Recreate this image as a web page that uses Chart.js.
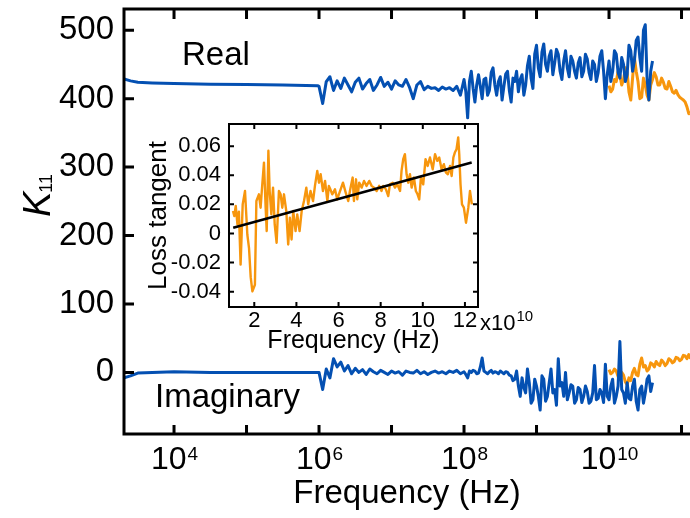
<!DOCTYPE html>
<html>
<head>
<meta charset="utf-8">
<script src="https://cdn.jsdelivr.net/npm/chart.js@4.4.0/dist/chart.umd.min.js"></script>
<style>
  html, body { margin: 0; padding: 0; background: #fff; }
  #wrap { position: relative; width: 690px; height: 518px; overflow: hidden; }
  #main { position: absolute; left: 0; top: 0; }
  #inset { position: absolute; left: 130px; top: 110px; }
</style>
</head>
<body>
<div id="wrap">
  <canvas id="main" width="690" height="518"></canvas>
  <canvas id="inset" width="420" height="250"></canvas>
</div>
<script>
// ---- main plot data (log10 of frequency in Hz, K11) ----
const blueLogF = [3.31, 3.4, 3.5, 3.7, 4.0, 4.5, 5.0, 5.5, 5.98,
  6.00, 6.05, 6.10, 6.15, 6.20, 6.25, 6.30, 6.35, 6.40, 6.45,
  6.50, 6.55, 6.60, 6.65, 6.70, 6.75, 6.80, 6.85, 6.90, 6.95,
  7.00, 7.05, 7.10, 7.15, 7.20, 7.25, 7.30, 7.35, 7.40, 7.45,
  7.50, 7.55, 7.60, 7.65, 7.70, 7.75, 7.80, 7.85, 7.90, 7.95,
  8.000, 8.025, 8.050, 8.075, 8.100, 8.125, 8.150, 8.175, 8.200, 8.225, 8.250, 8.275,
  8.300, 8.325, 8.350, 8.375, 8.400, 8.425, 8.450, 8.475, 8.500, 8.525, 8.550, 8.575,
  8.600, 8.625, 8.650, 8.675, 8.700, 8.725, 8.750, 8.775, 8.800, 8.825, 8.850, 8.875,
  8.900, 8.925, 8.950, 8.975, 9.000, 9.025, 9.050, 9.075, 9.100, 9.125, 9.150, 9.175,
  9.200, 9.225, 9.250, 9.275, 9.300, 9.325, 9.350, 9.375, 9.400, 9.425, 9.450, 9.475,
  9.500, 9.525, 9.550, 9.575, 9.600, 9.625, 9.650, 9.675, 9.700, 9.725, 9.750, 9.775,
  9.800, 9.825, 9.850, 9.875, 9.900, 9.925, 9.950, 9.975, 10.000, 10.025, 10.050, 10.075,
  10.100, 10.125, 10.150, 10.175, 10.200, 10.225, 10.250, 10.275, 10.300, 10.325, 10.350, 10.375,
  10.400, 10.425, 10.450, 10.475, 10.500, 10.525, 10.550, 10.575, 10.600];
const blueReal = [429, 426, 424, 423, 422, 421, 420.5, 420, 419,
  418, 393, 425, 432, 412, 426, 415, 430, 420, 410,
  424, 430, 414, 422, 428, 412, 420, 431, 418, 424,
  414, 426, 420, 418, 428, 416, 400, 420, 425, 413,
  418, 415, 416, 412, 417, 414, 416, 412, 418, 405,
  428, 410, 372, 425, 440, 415, 395, 420, 435, 418, 400, 428,
  430, 405, 412, 438, 445, 420, 405, 425, 432, 398, 418, 436,
  440, 412, 395, 430, 425, 440, 410, 428, 435, 405, 420, 448,
  462, 430, 415, 465, 478, 445, 432, 468, 480, 450, 440, 462,
  470, 435, 452, 472, 465, 440, 428, 455, 470, 445, 432, 462,
  455, 440, 430, 452, 460, 432, 440, 465, 458, 438, 428, 455,
  450, 425, 438, 462, 470, 440, 400, 435, 455, 425, 440, 470,
  465, 438, 430, 460, 450, 425, 435, 478, 470, 440, 455, 485,
  490, 460, 440, 500, 508, 430, 398, 440, 455];
const blueImag = [-8, -5, -1, 0, 1, 0, 0, 0, 0,
  0, -25, 5, -8, 20, 8, 15, 2, 10, -2,
  6, 0, 4, -3, 5, 1, -2, 3, 0, -3,
  2, -1, 1, -4, 2, 0, -1, 3, -2, 1,
  -3, 0, 2, -1, 1, -2, 2, 0, 3, -2,
  1, -3, -8, 2, 0, 3, 2, -2, -1, 8, 21, 2,
  0, -2, 1, 3, -1, 1, 0, -2, 2, 0, -2, 1,
  0, -4, -5, -12, -10, 2, -20, -35, -8, -22, -30, 5,
  -15, -45, -40, -10, -20, -35, -55, -5, -10, -42, -35, -15,
  5, -30, -25, -48, 20, -20, -15, -35, 0, -40, -30, -18,
  -20, -45, -40, -22, -25, -44, -35, -20, -28, -45, -42, -30,
  10, -40, -38, -25, -30, -44, 12, -35, -40, -20, -10, -45,
  -35, -20, 45, -25, -30, -45, -15, -38, -40, -20, -10, -42,
  -55, -25, -20, -45, -30, -10, -5, -28, -15];
const orangeLogF = [10.000, 10.025, 10.050, 10.075, 10.100, 10.125, 10.150, 10.175,
  10.200, 10.225, 10.250, 10.275, 10.300, 10.325, 10.350, 10.375,
  10.400, 10.425, 10.450, 10.475, 10.500, 10.525, 10.550, 10.575,
  10.600, 10.625, 10.650, 10.675, 10.700, 10.725, 10.750, 10.775,
  10.800, 10.825, 10.850, 10.875, 10.900, 10.925, 10.950, 10.975,
  11.000, 11.025, 11.050, 11.075, 11.100, 11.125, 11.150];
const orangeReal = [419, 410, 414, 428, 425, 440, 434, 420,
  428, 445, 438, 410, 398, 430, 460, 440,
  425, 400, 402, 430, 420, 405, 398, 420,
  428, 438, 432, 420, 420, 430, 424, 415,
  414, 425, 418, 410, 408, 412, 406, 402,
  400, 398, 395, 388, 378, 380, 372];
const orangeImag = [4, -2, 0, 5, 2, -6, -10, 0,
  -4, -14, -18, -8, -12, 0, 6, -3,
  -5, 12, 21, 8, 10, 2, 5, 14,
  12, 8, 16, 12, 10, 18, 15, 10,
  13, 20, 18, 14, 16, 22, 21, 17,
  19, 25, 24, 20, 26, 20, 8];
const mainYTicks = [0, 100, 200, 300, 400, 500];
const mainXDecades = [4, 5, 6, 7, 8, 9, 10, 11];
const mainXLabelled = [4, 6, 8, 10];

// ---- inset data (frequency in units of 1e10 Hz, loss tangent) ----
const lossFreq = [0.99, 1.05, 1.12, 1.20, 1.27, 1.35, 1.45, 1.56, 1.67, 1.75,
  1.83, 1.91, 2.03, 2.10, 2.22, 2.30, 2.38, 2.46, 2.54, 2.59,
  2.67, 2.73, 2.81, 2.89, 2.97, 3.06, 3.17, 3.25, 3.33, 3.41,
  3.52, 3.61, 3.69, 3.77, 3.85, 3.96, 4.04, 4.15, 4.25, 4.36,
  4.47, 4.56, 4.67, 4.79, 4.88, 4.99, 5.07, 5.15, 5.26, 5.36,
  5.47, 5.54, 5.62, 5.70, 5.83, 5.94, 6.02, 6.10, 6.21, 6.34,
  6.46, 6.54, 6.67, 6.73, 6.83, 6.89, 6.98, 7.10, 7.21, 7.33,
  7.46, 7.57, 7.68, 7.81, 7.93, 8.04, 8.12, 8.25, 8.36, 8.44,
  8.57, 8.68, 8.79, 8.92, 8.99, 9.07, 9.15, 9.23, 9.31, 9.39,
  9.47, 9.58, 9.67, 9.75, 9.83, 9.91, 10.02, 10.13, 10.23, 10.34,
  10.47, 10.58, 10.69, 10.78, 10.89, 11.00, 11.10, 11.19, 11.29, 11.37,
  11.45, 11.52, 11.60, 11.68, 11.73, 11.79, 11.86, 11.95, 12.05, 12.16,
  12.24, 12.33];
const lossTan = [0.0154, 0.0120, 0.0189, 0.0062, 0.0150, -0.0214, 0.0200, 0.0292, -0.0007, -0.0100,
  -0.0300, -0.0398, -0.0352, 0.0223, 0.0269, 0.0177, 0.0338, 0.0487, 0.0177, 0.0016,
  0.0568, 0.0292, 0.0131, 0.0315, 0.0062, -0.0064, 0.0292, 0.0269, 0.0177, 0.0269,
  0.0154, -0.0076, 0.0108, -0.0041, 0.0154, 0.0016, 0.0131, 0.0016, 0.0154, 0.0223,
  0.0315, 0.0200, 0.0292, 0.0223, 0.0327, 0.0430, 0.0349, 0.0407, 0.0292, 0.0361,
  0.0223, 0.0327, 0.0300, 0.0269, 0.0303, 0.0234, 0.0270, 0.0303, 0.0349, 0.0281,
  0.0223, 0.0292, 0.0384, 0.0223, 0.0372, 0.0234, 0.0349, 0.0315, 0.0361, 0.0327,
  0.0361, 0.0327, 0.0315, 0.0292, 0.0327, 0.0292, 0.0327, 0.0303, 0.0257, 0.0338,
  0.0349, 0.0315, 0.0338, 0.0292, 0.0430, 0.0510, 0.0545, 0.0407, 0.0349, 0.0407,
  0.0315, 0.0384, 0.0292, 0.0269, 0.0234, 0.0384, 0.0338, 0.0510, 0.0464, 0.0522,
  0.0441, 0.0545, 0.0499, 0.0522, 0.0441, 0.0476, 0.0418, 0.0407, 0.0464, 0.0395,
  0.0522, 0.0556, 0.0579, 0.0660, 0.0545, 0.0338, 0.0200, 0.0177, 0.0074, 0.0177,
  0.0292, 0.0200];
const fitFreq = [1.0, 12.32];
const fitTan = [0.0039, 0.0487];
const insetXTicks = [2, 4, 6, 8, 10, 12];
const insetYTicks = [-0.04, -0.02, 0, 0.02, 0.04, 0.06];

const FONT = '"Liberation Sans", Arial, sans-serif';
const BLUE = '#0450b2';
const ORANGE = '#f7960d';

function logPairs(lf, vals) {
  return lf.map((e, i) => ({ x: Math.pow(10, e), y: vals[i] }));
}
function pairs(xs, ys) {
  return xs.map((v, i) => ({ x: v, y: ys[i] }));
}

// frame, inward ticks, superscript labels and annotations for the main plot
const mainDecor = {
  id: 'mainDecor',
  afterDraw(chart) {
    const { ctx, chartArea: a, scales: { x, y } } = chart;
    ctx.save();
    ctx.strokeStyle = '#000';
    ctx.lineWidth = 3;
    ctx.beginPath();
    ctx.moveTo(a.right + 2, a.top);
    ctx.lineTo(a.left, a.top);
    ctx.lineTo(a.left, a.bottom);
    ctx.lineTo(a.right + 2, a.bottom);
    ctx.stroke();

    ctx.beginPath();
    mainXDecades.forEach(e => {
      const px = x.getPixelForValue(Math.pow(10, e));
      ctx.moveTo(px, a.bottom); ctx.lineTo(px, a.bottom - 9);
      ctx.moveTo(px, a.top); ctx.lineTo(px, a.top + 10);
    });
    mainYTicks.forEach(v => {
      const py = y.getPixelForValue(v);
      ctx.moveTo(a.left, py); ctx.lineTo(a.left + 10, py);
    });
    ctx.stroke();

    ctx.fillStyle = '#000';
    ctx.textBaseline = 'alphabetic';
    ctx.textAlign = 'left';
    mainXLabelled.forEach(e => {
      const px = x.getPixelForValue(Math.pow(10, e));
      ctx.font = '32px ' + FONT;
      const wb = ctx.measureText('10').width;
      ctx.font = '19px ' + FONT;
      const we = ctx.measureText(String(e)).width;
      const x0 = px - (wb + we) / 2;
      ctx.font = '32px ' + FONT;
      ctx.fillText('10', x0, 469);
      ctx.font = '19px ' + FONT;
      ctx.fillText(String(e), x0 + wb + 1, 460);
    });

    ctx.font = '33px ' + FONT;
    ctx.fillText('Real', 182, 65);
    ctx.fillText('Imaginary', 155, 407);

    // y axis title: italic K with subscript 11
    ctx.translate(50, 217);
    ctx.rotate(-Math.PI / 2);
    ctx.font = 'italic 38px ' + FONT;
    ctx.fillText('K', 0, 0);
    const kw = ctx.measureText('K').width;
    ctx.font = '18px ' + FONT;
    ctx.fillText('11', kw - 1, 2);
    ctx.restore();
  }
};

// frame, inward ticks and the x10^10 note for the inset
const insetDecor = {
  id: 'insetDecor',
  afterDraw(chart) {
    const { ctx, chartArea: a, scales: { x, y } } = chart;
    ctx.save();
    ctx.strokeStyle = '#000';
    ctx.lineWidth = 2;
    ctx.strokeRect(a.left, a.top, a.right - a.left, a.bottom - a.top);
    ctx.beginPath();
    insetXTicks.forEach(v => {
      const px = x.getPixelForValue(v);
      ctx.moveTo(px, a.bottom); ctx.lineTo(px, a.bottom - 5);
      ctx.moveTo(px, a.top); ctx.lineTo(px, a.top + 5);
    });
    insetYTicks.forEach(v => {
      const py = y.getPixelForValue(v);
      ctx.moveTo(a.left, py); ctx.lineTo(a.left + 5, py);
      ctx.moveTo(a.right, py); ctx.lineTo(a.right - 5, py);
    });
    ctx.stroke();

    ctx.fillStyle = '#000';
    ctx.textAlign = 'left';
    ctx.textBaseline = 'alphabetic';
    ctx.font = '22px ' + FONT;
    ctx.fillText('x10', 350, 220);
    const w = ctx.measureText('x10').width;
    ctx.font = '15px ' + FONT;
    ctx.fillText('10', 350 + w + 1, 211);
    ctx.restore();
  }
};

const lineStyle = { pointRadius: 0, tension: 0, fill: false, borderJoinStyle: 'round' };

new Chart(document.getElementById('main'), {
  type: 'line',
  data: {
    datasets: [
      { ...lineStyle, data: logPairs(blueLogF, blueReal), borderColor: BLUE, borderWidth: 3 },
      { ...lineStyle, data: logPairs(blueLogF, blueImag), borderColor: BLUE, borderWidth: 3 },
      { ...lineStyle, data: logPairs(orangeLogF, orangeReal), borderColor: ORANGE, borderWidth: 3 },
      { ...lineStyle, data: logPairs(orangeLogF, orangeImag), borderColor: ORANGE, borderWidth: 3 }
    ]
  },
  options: {
    responsive: false,
    animation: false,
    events: [],
    layout: { padding: { top: 9, right: 0, left: 0, bottom: 0 } },
    plugins: { legend: { display: false }, tooltip: { enabled: false } },
    scales: {
      x: {
        type: 'logarithmic',
        min: Math.pow(10, 3.31),
        max: Math.pow(10, 11.117),
        grid: { display: false, drawTicks: false },
        border: { display: false },
        ticks: { display: false },
        title: {
          display: true,
          text: 'Frequency (Hz)',
          color: '#000',
          font: { family: FONT, size: 33 },
          padding: { top: 0, bottom: 4 }
        },
        afterFit: s => { s.height = 84; s.paddingLeft = 0; s.paddingRight = 0; }
      },
      y: {
        min: -90,
        max: 531,
        grid: { display: false, drawTicks: false },
        border: { display: false },
        afterBuildTicks: s => { s.ticks = mainYTicks.map(v => ({ value: v })); },
        ticks: { color: '#000', font: { family: FONT, size: 33 }, padding: 10 },
        afterFit: s => { s.width = 124; s.paddingTop = 0; s.paddingBottom = 0; }
      }
    }
  },
  plugins: [mainDecor]
});

new Chart(document.getElementById('inset'), {
  type: 'line',
  data: {
    datasets: [
      { ...lineStyle, data: pairs(fitFreq, fitTan), borderColor: '#000', borderWidth: 2.6 },
      { ...lineStyle, data: pairs(lossFreq, lossTan), borderColor: ORANGE, borderWidth: 2.4 }
    ]
  },
  options: {
    responsive: false,
    animation: false,
    events: [],
    layout: { padding: { top: 14, right: 72, left: 0, bottom: 0 } },
    plugins: { legend: { display: false }, tooltip: { enabled: false } },
    scales: {
      x: {
        type: 'linear',
        min: 0.8,
        max: 12.62,
        grid: { display: false, drawTicks: false },
        border: { display: false },
        afterBuildTicks: s => { s.ticks = insetXTicks.map(v => ({ value: v })); },
        ticks: { color: '#000', font: { family: FONT, size: 22 }, padding: 1, maxRotation: 0, autoSkip: false },
        title: {
          display: true,
          text: 'Frequency (Hz)',
          color: '#000',
          font: { family: FONT, size: 25 },
          padding: { top: 0, bottom: 4 }
        },
        afterFit: s => { s.height = 53; s.paddingLeft = 0; s.paddingRight = 0; }
      },
      y: {
        min: -0.0505,
        max: 0.0752,
        grid: { display: false, drawTicks: false },
        border: { display: false },
        afterBuildTicks: s => { s.ticks = insetYTicks.map(v => ({ value: v })); },
        ticks: {
          color: '#000',
          font: { family: FONT, size: 22 },
          padding: 8,
          callback: v => (Math.abs(v) < 1e-9 ? '0' : v.toFixed(2))
        },
        title: {
          display: true,
          text: 'Loss tangent',
          color: '#000',
          font: { family: FONT, size: 26 },
          padding: { top: 13, bottom: 0 }
        },
        afterFit: s => { s.width = 99; s.paddingTop = 0; s.paddingBottom = 0; }
      }
    }
  },
  plugins: [insetDecor]
});
</script>
</body>
</html>
